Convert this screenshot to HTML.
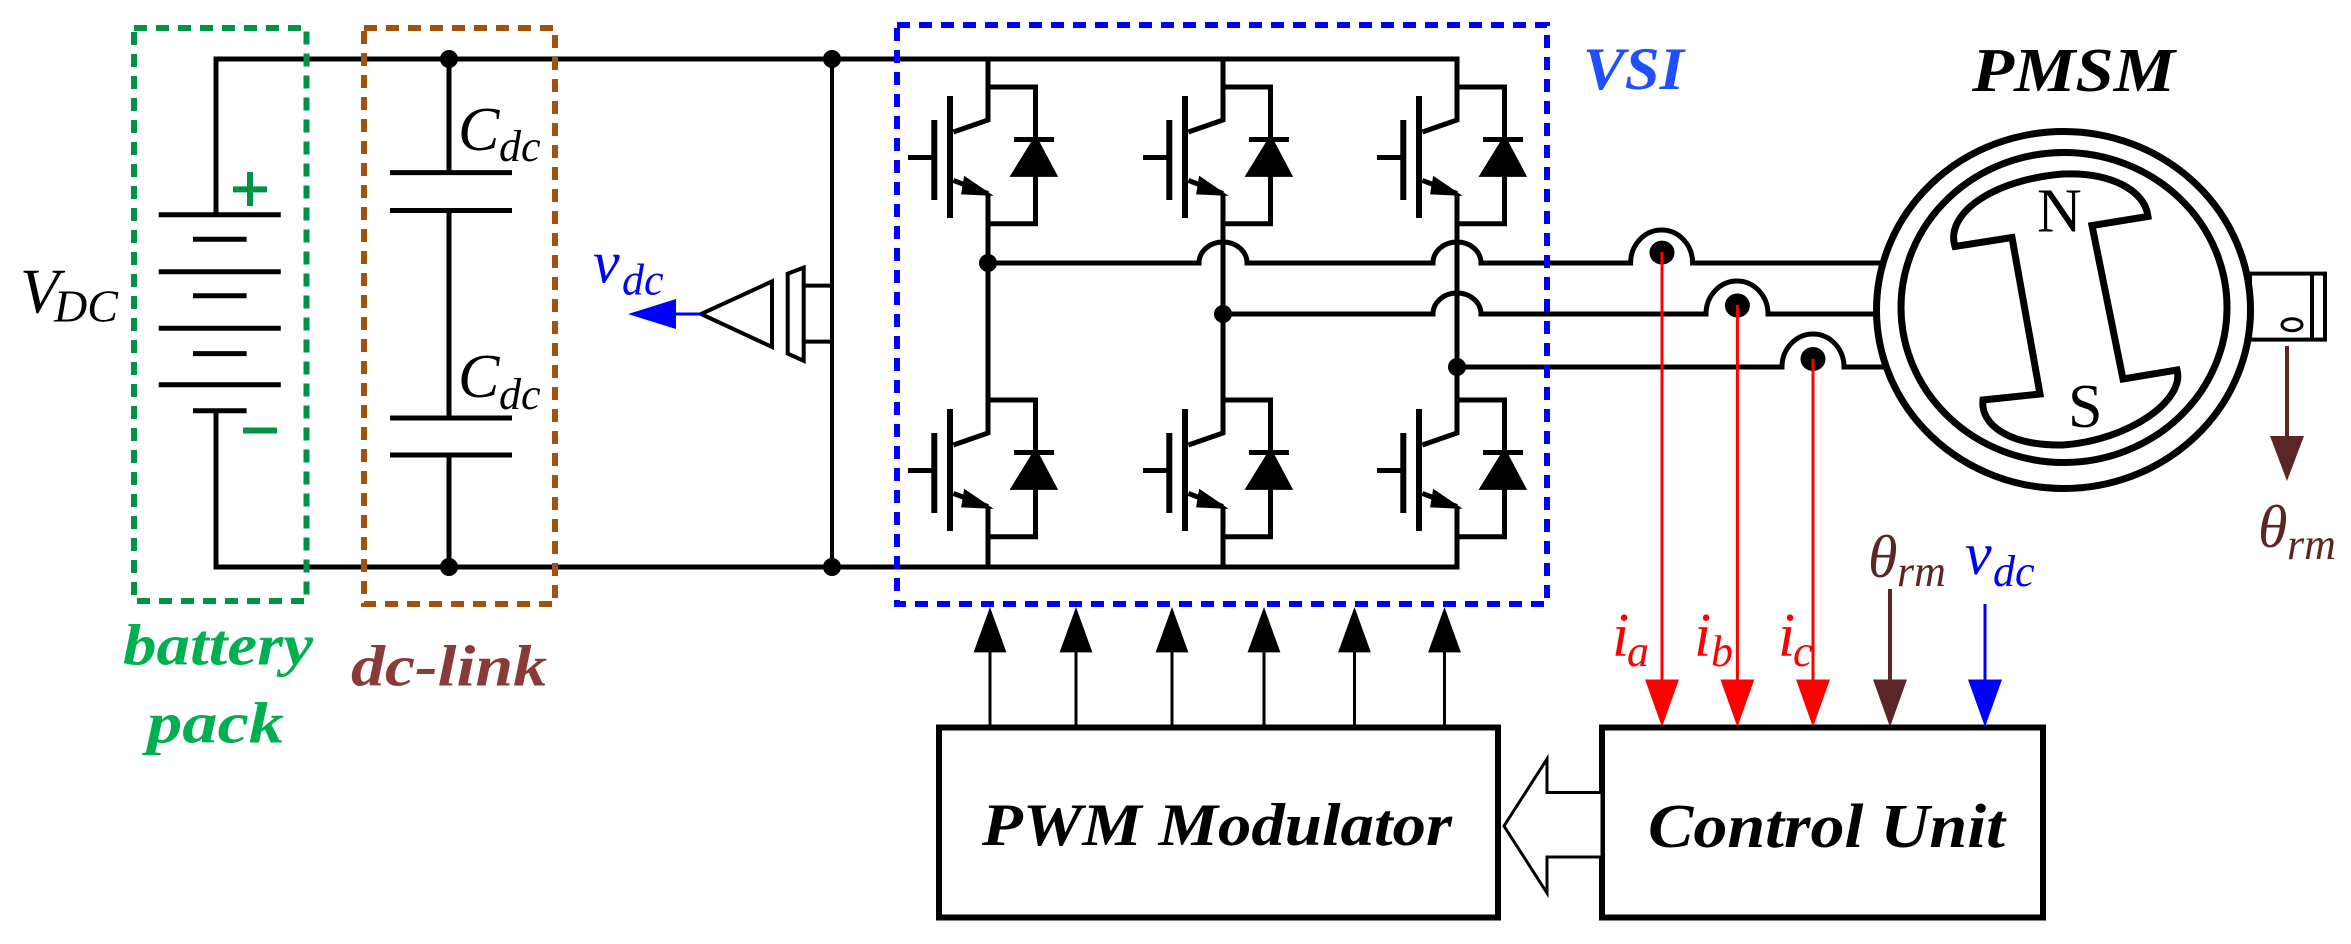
<!DOCTYPE html>
<html><head><meta charset="utf-8"><style>
html,body{margin:0;padding:0;background:#fff}
svg{display:block}
</style></head><body>
<svg width="2351" height="944" viewBox="0 0 2351 944" xmlns="http://www.w3.org/2000/svg" font-family="'Liberation Serif','Times New Roman',serif">
<defs>
<g id="sw" stroke="#000" stroke-width="5" fill="none">
  <path d="M0,59 V120 L-34.6,132"/>
  <line x1="-38" y1="96" x2="-38" y2="218" stroke-width="6"/>
  <line x1="-53.7" y1="120" x2="-53.7" y2="200" stroke-width="6"/>
  <line x1="-80" y1="157.5" x2="-53.7" y2="157.5"/>
  <path d="M-34.6,180.4 L0,193.6"/>
  <polygon points="-3,193 -22,180 -24,192" fill="#000"/>
  <path d="M0,87 H47.5 V223.7 H0"/>
  <line x1="26" y1="139.5" x2="66" y2="139.5"/>
  <polygon points="26,174.4 66,174.4 47.5,139.5" fill="#000"/>
</g>
</defs>

<g stroke="#000" stroke-width="5" fill="none">
  <path d="M216,214.7 V59 H1457 V120"/>
  <path d="M216,410.7 V567 H1457 V506"/>
  <line x1="449" y1="59" x2="449" y2="172.6"/>
  <line x1="449" y1="210.5" x2="449" y2="418"/>
  <line x1="449" y1="455" x2="449" y2="567"/>
  <line x1="390" y1="172.6" x2="512" y2="172.6"/>
  <line x1="390" y1="210.5" x2="512" y2="210.5"/>
  <line x1="390" y1="418" x2="512" y2="418"/>
  <line x1="390" y1="455" x2="512" y2="455"/>
  <line x1="158.7" y1="214.7" x2="280.8" y2="214.7"/>
  <line x1="158.7" y1="271.8" x2="280.8" y2="271.8"/>
  <line x1="158.7" y1="328.3" x2="280.8" y2="328.3"/>
  <line x1="158.7" y1="384.8" x2="280.8" y2="384.8"/>
  <line x1="193" y1="239.3" x2="246.6" y2="239.3"/>
  <line x1="193" y1="295.8" x2="246.6" y2="295.8"/>
  <line x1="193" y1="353.6" x2="246.6" y2="353.6"/>
  <line x1="193" y1="410.7" x2="246.6" y2="410.7"/>
  <line x1="832" y1="59" x2="832" y2="567" stroke-width="4"/>
  <path d="M832,285.6 H803.7 M832,341.6 H803.7" stroke-width="4"/>
  <polygon points="787.7,273.6 803.7,267.6 803.7,360.8 787.7,353.6" stroke-width="4"/>
  <polygon points="772,281.4 772,347 701,314" stroke-width="4"/>
</g>
<g fill="#000">
  <circle cx="449" cy="59" r="9"/><circle cx="449" cy="567" r="9"/>
  <circle cx="832" cy="59" r="9"/><circle cx="832" cy="567" r="9"/>
</g>
<line x1="701" y1="314" x2="670" y2="314" stroke="#0000ff" stroke-width="3"/>
<polygon points="628,314 676,299 676,329" fill="#0000ff"/>
<path d="M250,172 V206 M233,189.4 H267" stroke="#009245" stroke-width="6"/>
<line x1="243" y1="430.5" x2="277" y2="430.5" stroke="#009245" stroke-width="6"/>

<rect x="134" y="28" width="172.5" height="573" fill="none" stroke="#009245" stroke-width="6" stroke-dasharray="13 9"/>
<rect x="364" y="28" width="191" height="576" fill="none" stroke="#a0520f" stroke-width="6" stroke-dasharray="13 9"/>

<use href="#sw" x="988" y="0"/><use href="#sw" x="988" y="313"/>
<use href="#sw" x="1223" y="0"/><use href="#sw" x="1223" y="313"/>
<use href="#sw" x="1457" y="0"/><use href="#sw" x="1457" y="313"/>
<g stroke="#000" stroke-width="5" fill="none">
  <line x1="988" y1="193.6" x2="988" y2="433"/>
  <line x1="1223" y1="193.6" x2="1223" y2="433"/>
  <line x1="1457" y1="193.6" x2="1457" y2="433"/>
  <line x1="988" y1="506.6" x2="988" y2="567"/>
  <line x1="1223" y1="506.6" x2="1223" y2="567"/>
  <path d="M988,263 H1199 A24 21 0 0 1 1247 263 H1433 A24 21 0 0 1 1481 263 H1630.6 A31 33 0 0 1 1692.6 263 H1882"/>
  <path d="M1223,314 H1433 A24 21 0 0 1 1481 314 H1706 A31 33 0 0 1 1768 314 H1882"/>
  <path d="M1457,367 H1782 A31 33 0 0 1 1844 367 H1884"/>
</g>
<g fill="#000">
  <circle cx="988" cy="263" r="9"/><circle cx="1223" cy="314" r="9"/><circle cx="1457" cy="367" r="9"/>
  <ellipse cx="1662" cy="252.6" rx="12.5" ry="12"/>
  <ellipse cx="1737.4" cy="305.5" rx="12.5" ry="12"/>
  <ellipse cx="1813" cy="359" rx="12.5" ry="12"/>
</g>
<rect x="897" y="25" width="650" height="579" fill="none" stroke="#0000ff" stroke-width="6" stroke-dasharray="13 9"/>
<text x="1583" y="89" font-size="60" font-weight="bold" font-style="italic" fill="#1f4fff" textLength="101" lengthAdjust="spacingAndGlyphs">VSI</text>

<g stroke="#000" stroke-width="3">
  <line x1="990" y1="650" x2="990" y2="727"/><line x1="1076" y1="650" x2="1076" y2="727"/>
  <line x1="1172" y1="650" x2="1172" y2="727"/><line x1="1264" y1="650" x2="1264" y2="727"/>
  <line x1="1354.5" y1="650" x2="1354.5" y2="727"/><line x1="1444.5" y1="650" x2="1444.5" y2="727"/>
</g>
<g fill="#000">
  <polygon points="990,607 973.6,652.4 1006.4,652.4"/>
  <polygon points="1076,607 1059.6,652.4 1092.4,652.4"/>
  <polygon points="1172,607 1155.6,652.4 1188.4,652.4"/>
  <polygon points="1264,607 1247.6,652.4 1280.4,652.4"/>
  <polygon points="1354.5,607 1338.1,652.4 1370.9,652.4"/>
  <polygon points="1444.5,607 1428.1,652.4 1460.9,652.4"/>
</g>

<rect x="939" y="727.5" width="559" height="190" fill="none" stroke="#000" stroke-width="6"/>
<rect x="1602" y="727.5" width="441" height="190" fill="none" stroke="#000" stroke-width="6"/>
<polygon points="1602,792.5 1547,792.5 1547,759 1504,826 1547,893 1547,857 1602,857" fill="#fff" stroke="#000" stroke-width="3"/>
<text x="982" y="845" font-size="60" font-weight="bold" font-style="italic" textLength="470" lengthAdjust="spacingAndGlyphs">PWM Modulator</text>
<text x="1648" y="847" font-size="62" font-weight="bold" font-style="italic" textLength="357" lengthAdjust="spacingAndGlyphs">Control Unit</text>

<g stroke-width="3">
  <line x1="1662" y1="252" x2="1662" y2="685" stroke="#ff0000"/>
  <line x1="1737.4" y1="305" x2="1737.4" y2="685" stroke="#ff0000"/>
  <line x1="1813" y1="359" x2="1813" y2="685" stroke="#ff0000"/>
  <line x1="1890" y1="589" x2="1890" y2="685" stroke="#5c2626" stroke-width="4"/>
  <line x1="1985" y1="604" x2="1985" y2="685" stroke="#0000ff"/>
  <line x1="2287" y1="346" x2="2287" y2="440" stroke="#5c2626" stroke-width="4"/>
</g>
<polygon points="1662,727 1645,679.5 1679,679.5" fill="#ff0000"/>
<polygon points="1737.4,727 1720.4,679.5 1754.4,679.5" fill="#ff0000"/>
<polygon points="1813,727 1796,679.5 1830,679.5" fill="#ff0000"/>
<polygon points="1890,727 1873,679.5 1907,679.5" fill="#5c2626"/>
<polygon points="1985,727 1968,679.5 2002,679.5" fill="#0000ff"/>
<polygon points="2287,481 2270,436 2304,436" fill="#5c2626"/>

<rect x="2250" y="273.6" width="75" height="66" fill="#fff" stroke="#000" stroke-width="4"/>
<line x1="2312" y1="273.6" x2="2312" y2="339.6" stroke="#000" stroke-width="4"/>
<ellipse cx="2292" cy="324.7" rx="10" ry="6" fill="none" stroke="#000" stroke-width="3"/>
<ellipse cx="2063.5" cy="310" rx="187" ry="178.5" fill="#fff" stroke="#000" stroke-width="7"/>
<ellipse cx="2064" cy="307.5" rx="163" ry="155" fill="none" stroke="#000" stroke-width="7"/>
<path d="M1955,246.5 C1945,215 1990,180 2063,174 C2110,172 2145,190 2148,216.5 L2092,225.5 L2123,379 L2177,370 C2185,400 2130,440 2063,445 C2010,446 1980,425 1983,400 L2040,394 L2012,237.5 Z" fill="none" stroke="#000" stroke-width="7"/>
<text x="2037" y="231.5" font-size="62">N</text>
<text x="2068" y="427" font-size="62">S</text>
<text x="1972" y="91" font-size="62" font-weight="bold" font-style="italic" textLength="203" lengthAdjust="spacingAndGlyphs">PMSM</text>

<g font-style="italic">
  <text x="20" y="312.7" font-size="64">V</text><text x="54" y="321.7" font-size="46">DC</text>
  <text x="458" y="150" font-size="62">C</text><text x="499" y="161" font-size="44">dc</text>
  <text x="458" y="397" font-size="62">C</text><text x="499" y="409" font-size="44">dc</text>
  <g fill="#0000ff"><text x="593" y="282.6" font-size="60">v</text><text x="622" y="294.6" font-size="44">dc</text></g>
  <g fill="#ff0000">
    <text x="1612" y="656" font-size="62">i</text><text x="1627" y="666" font-size="44">a</text>
    <text x="1694" y="656" font-size="62">i</text><text x="1711" y="666" font-size="44">b</text>
    <text x="1778" y="656" font-size="62">i</text><text x="1793" y="666" font-size="44">c</text>
  </g>
  <g fill="#5c2626">
    <text x="1868" y="577" font-size="60">θ</text><text x="1897" y="586" font-size="44">rm</text>
    <text x="2258" y="547" font-size="60">θ</text><text x="2287" y="559" font-size="44">rm</text>
  </g>
  <g fill="#0000ff"><text x="1965" y="574" font-size="60">v</text><text x="1993" y="586" font-size="44">dc</text></g>
</g>
<g font-weight="bold" font-style="italic" font-size="58">
  <text x="123" y="664.5" fill="#00b050" textLength="190" lengthAdjust="spacingAndGlyphs">battery</text>
  <text x="147" y="742.6" fill="#00b050" textLength="137" lengthAdjust="spacingAndGlyphs">pack</text>
  <text x="351" y="685.5" fill="#8b3a3a" textLength="196" lengthAdjust="spacingAndGlyphs">dc-link</text>
</g>
</svg>
</body></html>
